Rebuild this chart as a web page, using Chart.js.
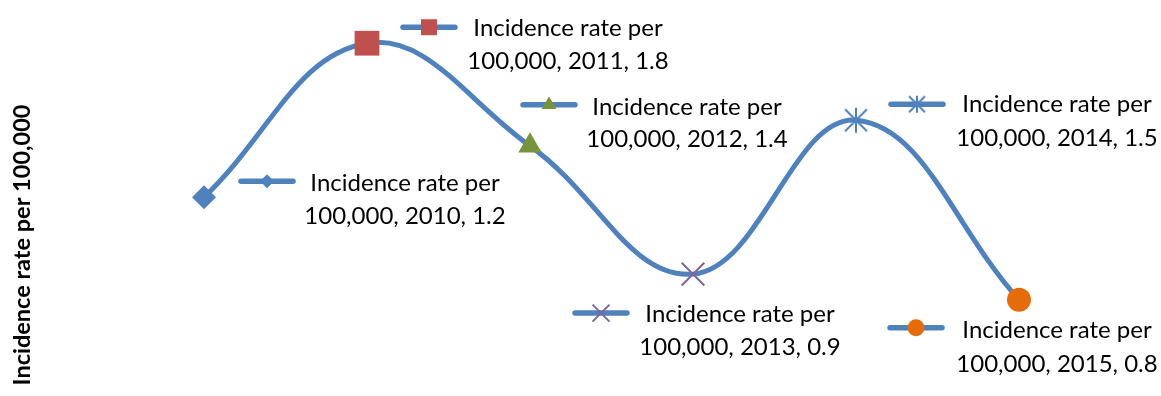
<!DOCTYPE html>
<html>
<head>
<meta charset="utf-8">
<script src="https://cdn.jsdelivr.net/npm/chart.js@4.4.1/dist/chart.umd.min.js"></script>
<style>
  html, body { margin: 0; padding: 0; background: #ffffff; }
  #wrap { width: 1161px; height: 396px; position: relative; }
</style>
</head>
<body>
<div id="wrap"><canvas id="chart"></canvas></div>
<script>
// ---- data ----
const years = ['2010', '2011', '2012', '2013', '2014', '2015'];
const incidenceRates = [1.2, 1.8, 1.4, 0.9, 1.5, 0.8];
const seriesName = 'Incidence rate per 100,000';
const labelFirstLine = 'Incidence rate per';
const labelUnit = '100,000';
const yAxisTitle = 'Incidence rate per 100,000';

// ---- styling ----
const LINE_BLUE = '#4F81BD';
const LABEL_FONT = '24px Lato, "Open Sans", sans-serif';
const TITLE_FONT = 'bold 23.5px Lato, "Open Sans", sans-serif';

// Excel-style asterisk marker: an X with a vertical bar
function makeStar(w, h, color, lw) {
  const c = document.createElement('canvas');
  const pad = 2;
  c.width = Math.ceil(w + pad * 2);
  c.height = Math.ceil(h + pad * 2);
  const g = c.getContext('2d');
  g.strokeStyle = color;
  g.lineWidth = lw;
  const cx = c.width / 2, cy = c.height / 2;
  g.beginPath();
  g.moveTo(cx - w / 2, cy - w / 2); g.lineTo(cx + w / 2, cy + w / 2);
  g.moveTo(cx + w / 2, cy - w / 2); g.lineTo(cx - w / 2, cy + w / 2);
  g.moveTo(cx, cy - h / 2); g.lineTo(cx, cy + h / 2);
  g.stroke();
  return c;
}

const starBig = makeStar(22, 25, LINE_BLUE, 2);
const starSmall = makeStar(16, 17, LINE_BLUE, 2);

// one marker per year, each in its own style
const markerStyle   = ['rectRot', 'rect', 'triangle', 'crossRot', starBig, 'circle'];
const markerRadius  = [12, 17.5, 13.5, 16, 12, 12];
const markerFill    = [LINE_BLUE, '#C0504D', '#77933C', 'rgba(0,0,0,0)', LINE_BLUE, '#E46C0A'];
const markerStroke  = [LINE_BLUE, '#C0504D', '#77933C', '#8064A2', LINE_BLUE, '#E46C0A'];
const markerBorder  = [0, 0, 0, 2, 0, 0];

// legend-key markers inside the data labels
const keyStyle  = ['rectRot', 'rect', 'triangle', 'crossRot', starSmall, 'circle'];
const keyRadius = [7, 11.3, 8.5, 12, 8, 8.5];

// label placement relative to each point: key centre, text centre x, two baselines
const labelPlacement = [
  { kx: 63,   ky: -16, tx: 201, b1: -6,  b2: 27 },
  { kx: 62,   ky: -16, tx: 201, b1: -7,  b2: 26 },
  { kx: 19,   ky: -41, tx: 157, b1: -31, b2: 1  },
  { kx: -92,  ky: 39,  tx: 47,  b1: 48,  b2: 81 },
  { kx: 61,   ky: -16, tx: 201, b1: -8,  b2: 26 },
  { kx: -103, ky: 28,  tx: 38,  b1: 38,  b2: 72 }
];

const dataLabelsPlugin = {
  id: 'keyedDataLabels',
  afterDatasetsDraw(chart) {
    const ctx = chart.ctx;
    const meta = chart.getDatasetMeta(0);
    meta.data.forEach((pt, i) => {
      const p = labelPlacement[i];
      const kx = pt.x + p.kx, ky = pt.y + p.ky;
      ctx.save();
      // key line
      ctx.strokeStyle = LINE_BLUE;
      ctx.lineWidth = 5.5;
      ctx.lineCap = 'round';
      ctx.beginPath();
      ctx.moveTo(kx - 26, ky);
      ctx.lineTo(kx + 26, ky);
      ctx.stroke();
      // key marker
      ctx.fillStyle = markerFill[i];
      ctx.strokeStyle = markerStroke[i];
      ctx.lineWidth = markerBorder[i];
      ctx.lineCap = 'butt';
      Chart.helpers.drawPoint(ctx, {
        pointStyle: keyStyle[i],
        radius: keyRadius[i],
        rotation: 0,
        borderWidth: markerBorder[i]
      }, kx, ky);
      // text
      ctx.fillStyle = '#000000';
      ctx.font = LABEL_FONT;
      ctx.textAlign = 'center';
      ctx.textBaseline = 'alphabetic';
      const tx = pt.x + p.tx;
      ctx.fillText(labelFirstLine, tx, pt.y + p.b1);
      ctx.fillText(labelUnit + ', ' + years[i] + ', ' + incidenceRates[i], tx, pt.y + p.b2);
      ctx.restore();
    });
  }
};

const axisTitlePlugin = {
  id: 'verticalAxisTitle',
  afterDraw(chart) {
    const ctx = chart.ctx;
    ctx.save();
    ctx.translate(22, 245);
    ctx.rotate(-Math.PI / 2);
    ctx.font = TITLE_FONT;
    ctx.fillStyle = '#000000';
    ctx.textAlign = 'center';
    ctx.textBaseline = 'middle';
    ctx.fillText(yAxisTitle, 0, 0);
    ctx.restore();
  }
};

new Chart(document.getElementById('chart'), {
  type: 'line',
  data: {
    labels: years,
    datasets: [{
      label: seriesName,
      data: incidenceRates,
      borderColor: LINE_BLUE,
      borderWidth: 5,
      tension: 0.4,
      fill: false,
      clip: false,
      pointStyle: markerStyle,
      pointRadius: markerRadius,
      pointHoverRadius: markerRadius,
      pointBackgroundColor: markerFill,
      pointBorderColor: markerStroke,
      pointBorderWidth: markerBorder
    }]
  },
  options: {
    responsive: true,
    maintainAspectRatio: false,
    animation: false,
    events: [],
    layout: { padding: { left: 204, right: 142, top: 10, bottom: 10 } },
    plugins: {
      legend: { display: false },
      tooltip: { enabled: false }
    },
    scales: {
      x: { display: false },
      y: { display: false, min: 0.4717, max: 1.9217 }
    }
  },
  plugins: [dataLabelsPlugin, axisTitlePlugin]
});
</script>
</body>
</html>
